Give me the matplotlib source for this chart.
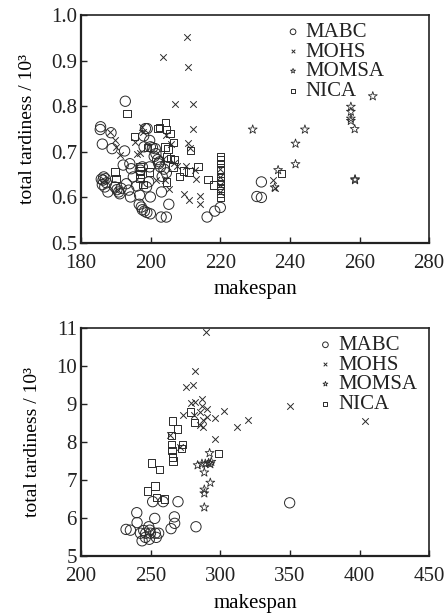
import matplotlib
matplotlib.use("Agg")
import matplotlib.pyplot as plt

plt.rcParams['font.family'] = ['Liberation Serif', 'DejaVu Serif']

# ---------------- Top chart data ----------------
top_mabc_x = [192.7, 185.5, 185.6, 186.1, 188.6, 188.9, 192.5, 192.1, 194.0, 194.4,
              186.5, 186.3, 186.1, 186.8, 187.7, 189.7, 190.3, 191.1, 193.7, 194.2,
              196.8, 197.6, 198.1, 198.5, 199.0, 199.7, 199.4, 198.8, 199.9, 196.7,
              197.3, 197.6, 198.2, 198.9, 199.9, 199.7, 199.9, 201.3, 201.5, 202.0,
              202.3, 202.8, 203.1, 203.0, 204.5, 203.3, 205.2, 204.5, 216.2, 218.4,
              220.0, 230.5, 231.8, 231.8, 187.0, 190.8, 195.0, 196.0, 200.5, 203.8,
              185.8, 187.3, 191.5, 193.0, 197.0, 198.0, 201.0, 202.5]
top_mabc_y = [0.811, 0.749, 0.755, 0.717, 0.742, 0.707, 0.702, 0.671, 0.674, 0.663,
              0.645, 0.638, 0.628, 0.623, 0.612, 0.623, 0.617, 0.608, 0.616, 0.601,
              0.605, 0.667, 0.711, 0.751, 0.751, 0.667, 0.634, 0.623, 0.601, 0.585,
              0.579, 0.573, 0.570, 0.567, 0.564, 0.725, 0.711, 0.707, 0.696, 0.683,
              0.674, 0.667, 0.612, 0.557, 0.557, 0.646, 0.585, 0.654, 0.557, 0.570,
              0.578, 0.602, 0.600, 0.634, 0.641, 0.612, 0.645, 0.625, 0.709, 0.662,
              0.640, 0.632, 0.620, 0.630, 0.660, 0.735, 0.690, 0.678]

top_mohs_x = [203.5, 210.4, 210.7, 206.9, 212.2, 212.2, 210.6, 211.2, 210.0, 209.7,
              211.1, 213.1, 212.8, 214.3, 214.3, 204.5, 205.7, 205.2, 204.2, 201.6,
              197.5, 197.8, 195.6, 196.1, 188.4, 189.6, 190.1, 191.1, 186.5, 190.5,
              203.5, 206.6, 220.0, 220.0, 220.0, 220.0, 235.0, 235.6, 197.0, 207.5]
top_mohs_y = [0.908, 0.951, 0.887, 0.805, 0.805, 0.750, 0.720, 0.708, 0.669, 0.607,
              0.595, 0.641, 0.660, 0.603, 0.585, 0.736, 0.718, 0.619, 0.638, 0.638,
              0.755, 0.744, 0.722, 0.695, 0.744, 0.725, 0.711, 0.693, 0.638, 0.616,
              0.684, 0.676, 0.662, 0.645, 0.628, 0.612, 0.638, 0.621, 0.698, 0.668]

top_momsa_x = [229.3, 236.6, 241.6, 241.6, 244.3, 257.5, 257.5, 257.5, 257.5, 258.6,
               258.7, 258.7, 263.8, 235.6]
top_momsa_y = [0.749, 0.660, 0.718, 0.673, 0.749, 0.799, 0.788, 0.773, 0.768, 0.750,
               0.638, 0.640, 0.822, 0.622]

top_nica_x = [193.2, 189.7, 195.4, 196.9, 196.9, 196.9, 196.9, 197.8, 199.7, 202.1,
              202.6, 204.2, 204.5, 205.5, 206.5, 204.1, 204.5, 205.6, 206.8, 206.4,
              208.3, 209.4, 211.0, 213.6, 216.5, 218.1, 220.0, 220.0, 220.0, 220.0,
              220.0, 220.0, 220.0, 220.0, 220.0, 220.0, 211.4, 204.5, 237.5, 199.0,
              190.0, 205.0]
top_nica_y = [0.784, 0.656, 0.734, 0.668, 0.658, 0.650, 0.643, 0.628, 0.656, 0.751,
              0.753, 0.764, 0.749, 0.740, 0.720, 0.711, 0.689, 0.685, 0.683, 0.667,
              0.646, 0.658, 0.656, 0.668, 0.640, 0.627, 0.689, 0.682, 0.675, 0.660,
              0.645, 0.637, 0.630, 0.620, 0.610, 0.600, 0.703, 0.634, 0.652, 0.710,
              0.641, 0.706]

# ---------------- Bottom chart data ----------------
bot_mabc_x = [232.3, 235.4, 240.0, 240.2, 242.6, 243.8, 245.0, 246.4, 248.6, 249.3,
              249.8, 249.0, 251.4, 252.9, 253.3, 254.0, 255.7, 258.9, 264.6, 267.0,
              267.2, 269.6, 282.5, 349.8, 246.2]
bot_mabc_y = [5.70, 5.68, 6.14, 5.88, 5.60, 5.40, 5.67, 5.60, 5.77, 5.68,
              5.60, 5.44, 6.43, 5.99, 5.60, 5.49, 5.60, 6.43, 5.72, 6.03,
              5.86, 6.43, 5.77, 6.40, 5.49]

bot_mohs_x = [289.7, 282.1, 275.6, 280.1, 279.2, 282.0, 286.8, 286.8, 290.4, 273.0,
              281.0, 285.2, 290.4, 296.3, 302.4, 285.2, 287.6, 312.0, 319.6, 296.3,
              264.1, 270.8, 349.8, 403.6, 287.3]
bot_mohs_y = [10.89, 9.87, 9.45, 9.51, 9.03, 9.05, 9.12, 8.94, 8.88, 8.72,
              8.70, 8.79, 8.66, 8.63, 8.81, 8.44, 8.40, 8.40, 8.57, 8.09,
              8.18, 7.87, 8.94, 8.55, 8.59]

bot_momsa_x = [283.7, 286.8, 289.2, 291.6, 292.8, 293.5, 292.3, 288.5, 292.8, 288.5,
               288.5, 288.5]
bot_momsa_y = [7.39, 7.43, 7.43, 7.45, 7.42, 7.48, 7.71, 7.20, 6.93, 6.75,
               6.65, 6.28]

bot_nica_x = [250.5, 256.2, 247.8, 253.1, 254.3, 259.8, 265.6, 264.8, 264.8, 265.3,
              265.8, 266.0, 269.4, 273.0, 272.0, 278.5, 281.3, 298.8]
bot_nica_y = [7.45, 7.28, 6.71, 6.84, 6.54, 6.50, 8.55, 8.18, 7.93, 7.77,
              7.61, 7.50, 8.34, 7.94, 7.83, 8.79, 8.51, 7.70]

series_names = ['MABC', 'MOHS', 'MOMSA', 'NICA']
ec = '#2a2a2a'

fig = plt.figure(figsize=(4.48, 6.16), dpi=100)
ax1 = fig.add_axes([0.181, 0.6055, 0.777, 0.370])
ax2 = fig.add_axes([0.181, 0.0974, 0.777, 0.370])


def draw(ax, data, xlim, ylim, xticks, yticks, yfmt, leg_x, leg_y, xlabelpad):
    styles = [('o', 55, 0.7), ('x', 22, 0.7), ('*', 45, 0.6), ('s', 28, 0.7)]
    for (xs, ys), name, (m, s, lw) in zip(data, series_names, styles):
        if m == 'x':
            ax.scatter(xs, ys, marker=m, s=s, c=ec, linewidths=lw, label=name)
        else:
            ax.scatter(xs, ys, marker=m, s=s, facecolors='none', edgecolors=ec,
                       linewidths=lw, label=name)
    ax.set_xlim(*xlim)
    ax.set_ylim(*ylim)
    ax.set_xticks(xticks)
    ax.set_yticks(yticks)
    ax.set_yticklabels([yfmt.format(v) for v in yticks])
    ax.tick_params(direction='in', length=4, width=1, labelsize=15,
                   top=False, right=False, colors='#222222')
    ax.tick_params(axis='x', pad=8)
    ax.tick_params(axis='y', pad=3)
    for side in ['left', 'bottom']:
        ax.spines[side].set_linewidth(1.6)
    for side in ['top', 'right']:
        ax.spines[side].set_linewidth(1.2)
    for sp in ax.spines.values():
        sp.set_color('#222222')
    ax.set_xlabel('makespan', fontsize=15, labelpad=xlabelpad)
    ax.set_ylabel('total tardiness / 10³', fontsize=14, labelpad=11)
    leg = ax.legend(loc='upper left', bbox_to_anchor=(leg_x, leg_y), frameon=False,
                    fontsize=15, markerscale=0.55, handletextpad=0.1,
                    labelspacing=0.0, borderaxespad=0.0, handlelength=1.0,
                    borderpad=0.2)
    for t in leg.get_texts():
        t.set_color('#222222')


draw(ax1,
     [(top_mabc_x, top_mabc_y), (top_mohs_x, top_mohs_y),
      (top_momsa_x, top_momsa_y), (top_nica_x, top_nica_y)],
     (180, 280), (0.5, 1.0), [180, 200, 220, 240, 260, 280],
     [0.5, 0.6, 0.7, 0.8, 0.9, 1.0], '{:.1f}', 0.567, 0.985, 5)

draw(ax2,
     [(bot_mabc_x, bot_mabc_y), (bot_mohs_x, bot_mohs_y),
      (bot_momsa_x, bot_momsa_y), (bot_nica_x, bot_nica_y)],
     (200, 450), (5, 11), [200, 250, 300, 350, 400, 450],
     [5, 6, 7, 8, 9, 10, 11], '{:d}', 0.66, 0.985, 6)

fig.savefig('out.png', dpi=100)
